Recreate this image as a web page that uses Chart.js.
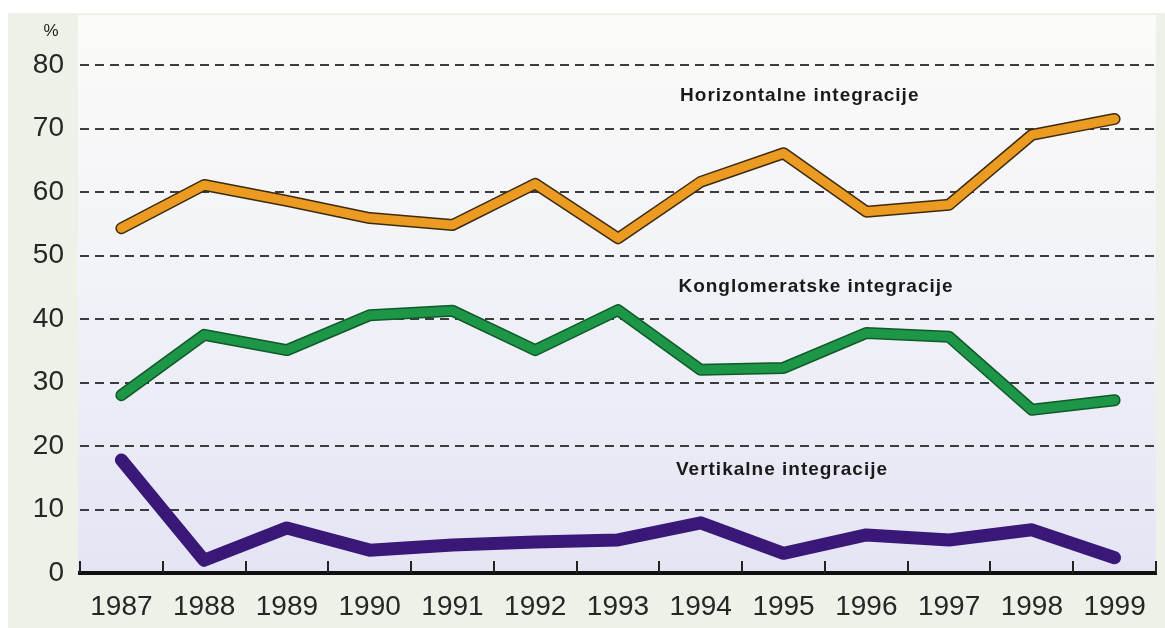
<!DOCTYPE html>
<html>
<head>
<meta charset="utf-8">
<script src="https://cdn.jsdelivr.net/npm/chart.js@4"></script>
<style>
  html, body { margin: 0; padding: 0; background: #fff; }
  canvas { display: block; }
</style>
</head>
<body>
<canvas id="chart" width="1165" height="628"></canvas>
<script>
// Data
const years = ['1987', '1988', '1989', '1990', '1991', '1992', '1993', '1994', '1995', '1996', '1997', '1998', '1999'];
const horizontalne = [54.3, 61.1, 58.6, 55.9, 54.8, 61.3, 52.7, 61.6, 66.1, 56.9, 58.0, 69.0, 71.5];
const konglomeratske = [28.0, 37.5, 35.1, 40.6, 41.3, 35.1, 41.4, 32.0, 32.3, 37.8, 37.2, 25.7, 27.2];
const vertikalne = [17.8, 2.0, 7.1, 3.6, 4.4, 4.9, 5.2, 7.9, 3.1, 6.0, 5.2, 6.8, 2.4];
const yTicks = [0, 10, 20, 30, 40, 50, 60, 70, 80];

const seriesLabels = ['Horizontalne integracije', 'Konglomeratske integracije', 'Vertikalne integracije'];
const labelSpots = [[6.75, 75.1], [6.73, 45.0], [6.7, 16.2]];

const FONT = "'Liberation Sans', Arial, sans-serif";

// background frame + plot panel gradient
const backdrop = {
  id: 'backdrop',
  beforeDraw(chart) {
    const { ctx, chartArea: a } = chart;
    ctx.save();
    ctx.fillStyle = '#ffffff';
    ctx.fillRect(0, 0, chart.width, chart.height);
    ctx.fillStyle = '#edf1e8';
    ctx.fillRect(8, 13, chart.width - 8, chart.height - 13);
    const g = ctx.createLinearGradient(0, 15, 0, a.bottom);
    g.addColorStop(0, '#fbfbf8');
    g.addColorStop(0.5, '#f1f2f8');
    g.addColorStop(1, '#e4e4f4');
    ctx.fillStyle = g;
    ctx.fillRect(a.left - 2, 15, a.right - a.left + 2, a.bottom - 15);
    ctx.restore();
  }
};

// small upward tick marks between the years, "%" unit and the series captions
const decorations = {
  id: 'decorations',
  afterDatasetsDraw(chart) {
    const { ctx, scales: { x, y } } = chart;
    ctx.save();
    ctx.strokeStyle = '#222';
    ctx.lineWidth = 2;
    for (let i = 0; i <= years.length; i++) {
      const px = Math.round(x.getPixelForValue(i - 0.5));
      ctx.beginPath();
      ctx.moveTo(px, y.bottom);
      ctx.lineTo(px, y.bottom - 12);
      ctx.stroke();
    }
    ctx.fillStyle = '#222';
    ctx.font = '17px ' + FONT;
    ctx.textAlign = 'center';
    ctx.textBaseline = 'middle';
    ctx.fillText('%', 51, 31);

    ctx.fillStyle = '#1a1a1a';
    ctx.font = 'bold 19px ' + FONT;
    ctx.letterSpacing = '1px';
    ctx.textAlign = 'left';
    seriesLabels.forEach((t, i) => {
      ctx.fillText(t, x.getPixelForValue(labelSpots[i][0]), y.getPixelForValue(labelSpots[i][1]));
    });
    ctx.restore();
  }
};

function line(data, color, width, order) {
  return {
    data,
    borderColor: color,
    borderWidth: width,
    borderJoinStyle: 'round',
    borderCapStyle: 'round',
    pointRadius: 0,
    tension: 0,
    fill: false,
    order
  };
}

new Chart(document.getElementById('chart'), {
  type: 'line',
  data: {
    labels: years,
    datasets: [
      line(horizontalne, '#3d2b0e', 12, 2),
      line(horizontalne, '#eb9a22', 9, 1),
      line(konglomeratske, '#0f5a28', 12, 2),
      line(konglomeratske, '#1d9647', 9, 1),
      line(vertikalne, '#3a1877', 13, 1)
    ]
  },
  options: {
    responsive: false,
    animation: false,
    devicePixelRatio: 1,
    layout: { padding: { top: 65, right: 9, left: 0, bottom: 0 } },
    plugins: { legend: { display: false }, tooltip: { enabled: false } },
    scales: {
      x: {
        type: 'category',
        offset: true,
        grid: { display: false, drawTicks: false },
        border: { display: true, color: '#111', width: 4 },
        ticks: { color: '#262626', font: { family: FONT, size: 28 }, padding: 17, maxRotation: 0, autoSkip: false },
        afterFit(s) { s.height = 55; }
      },
      y: {
        min: 0,
        max: 80,
        afterBuildTicks(s) { s.ticks = yTicks.map(v => ({ value: v })); },
        grid: { color: '#3c3c3c', lineWidth: 2, drawTicks: false },
        border: { display: false, dash: [9, 6] },
        ticks: { color: '#262626', font: { family: FONT, size: 28 }, padding: 16 },
        afterFit(s) { s.width = 80; }
      }
    }
  },
  plugins: [backdrop, decorations]
});
</script>
</body>
</html>
